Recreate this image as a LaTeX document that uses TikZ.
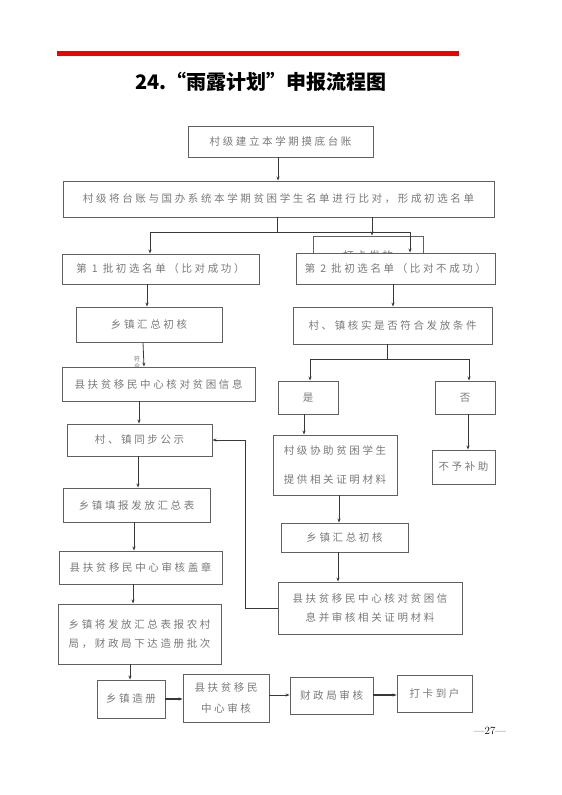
\documentclass[tikz,border=0pt]{standalone}
\usepackage{fontspec}
\newfontfamily\cjk[LetterSpace=25]{Noto Sans CJK SC}
\newfontfamily\cjkt{Noto Sans CJK SC}
\usetikzlibrary{arrows.meta}
\definecolor{boxc}{HTML}{606060}
\definecolor{txtc}{HTML}{7A7A7A}
\definecolor{linec}{HTML}{383838}
\definecolor{redline}{HTML}{F00000}
\newcommand\mkbox[7][]{%
  \pgfmathsetmacro\bw{#5-#3}\pgfmathsetmacro\bh{#6-#4}%
  \node[box,minimum width=\bw pt,minimum height=\bh pt,#1] (#2) at ({(#3+#5)/2},{(#4+#6)/2}) {#7};}
\begin{document}
\begin{tikzpicture}[x=1pt,y=-1pt,
  box/.style={draw=boxc, line width=0.9pt, fill=white, inner sep=0pt, align=center,
    font=\fontsize{10.5}{19}\selectfont\cjk, text=txtc},
  arr/.style={draw=linec, line width=0.8pt, -{Stealth[length=4pt,width=3pt]}},
  ln/.style={draw=linec, line width=0.8pt}]
\useasboundingbox (0,0) rectangle (562,795);
\fill[white] (0,0) rectangle (562,795);
% header
\draw[redline, line width=5pt] (57,53) -- (459,53);
\node (title) at (261,82) {\cjkt\bfseries\fontsize{20}{23}\selectfont 24.“雨露计划”申报流程图};
% top
\mkbox{b1}{188}{126}{373}{157}{村级建立本学期摸底台账}
\mkbox{b2}{63}{181}{494}{217}{村级将台账与国办系统本学期贫困学生名单进行比对，形成初选名单}
\mkbox{hid}{313}{236}{423}{276}{打卡发放}
\mkbox{p1}{62}{254}{259}{284}{第 1 批初选名单（比对成功）}
\mkbox{p2}{296}{253}{495}{284}{第 2 批初选名单（比对不成功）}
% left column
\mkbox{l1}{76}{307}{222}{342}{乡镇汇总初核}
\node[font=\fontsize{6}{7}\selectfont\cjkt, text=txtc, align=center, inner sep=0pt] (fh) at (137,362.5) {符\\合};
\mkbox{l2}{62}{367}{255}{401}{县扶贫移民中心核对贫困信息}
\mkbox{l3}{67}{424}{212}{456}{村、镇同步公示}
\mkbox{l4}{63}{488}{210}{522}{乡镇填报发放汇总表}
\mkbox{l5}{59}{551}{222}{584}{县扶贫移民中心审核盖章}
\mkbox{l6}{58}{604}{221}{664}{乡镇将发放汇总表报农村\\局，财政局下达造册批次}
\mkbox{l7}{97}{680}{165}{718}{乡镇造册}
\mkbox{c1}{183}{674}{269}{722}{县扶贫移民\\[2pt]中心审核}
\mkbox{c2}{290}{677}{373}{714}{财政局审核}
\mkbox{c3}{397}{675}{472}{712}{打卡到户}
% right column
\mkbox{r1}{293}{307}{492}{344}{村、镇核实是否符合发放条件}
\mkbox{yes}{278}{381}{338}{414}{是}
\mkbox{no}{435}{381}{495}{414}{否}
\mkbox{r2}{273}{435}{397}{495}{村级协助贫困学生\\[10pt]提供相关证明材料}
\mkbox{nz}{432}{450}{495}{484}{不予补助}
\mkbox{r3}{281}{523}{408}{552}{乡镇汇总初核}
\mkbox{r4}{278}{582}{462}{634}{县扶贫移民中心核对贫困信\\息并审核相关证明材料}
\node[font=\fontsize{11}{13}\selectfont, inner sep=0pt] (pg) at (490,731) {—27—};
% connectors
\draw[arr] (b1.south -| 278,0) -- (b2.north -| 278,0);
\coordinate (j1) at (277,232);
\draw[ln] (b2.south -| j1) -- (j1);
\draw[ln] (150,232) -- (410,232);
\draw[arr] (150,232) -- (p1.north -| 150,0);
\draw[arr] (410,232) -- (p2.north -| 410,0);
\draw[arr] (b2.south -| 372,0) -- (hid.north -| 372,0);
\draw[arr] (p1.south -| 147,0) -- (l1.north -| 147,0);
\draw[arr] (l1.south -| 143,0) -- (l2.north -| 144,0);
\draw[arr] (l2.south -| 139,0) -- (l3.north -| 139,0);
\draw[arr] (l3.south -| 138,0) -- (l4.north -| 138,0);
\draw[arr] (l4.south -| 134,0) -- (l5.north -| 134,0);
\draw[arr] (l5.south -| 133,0) -- (l6.north -| 133,0);
\draw[arr] (l6.south -| 130,0) -- (l7.north -| 130,0);
\draw[arr, line width=1.3pt] (l7.east |- 0,699) -- (c1.west |- 0,699);
\draw[arr] (c1.east |- 0,695) -- (c2.west |- 0,695);
\draw[arr, line width=1.1pt] (c2.east |- 0,695) -- (c3.west |- 0,695);
\draw[arr] (p2.south -| 393,0) -- (r1.north -| 393,0);
\coordinate (j2) at (387,359);
\draw[ln] (r1.south -| j2) -- (j2);
\draw[ln] (310,359) -- (469,359);
\draw[arr] (310,359) -- (yes.north -| 310,0);
\draw[arr] (469,359) -- (no.north -| 469,0);
\draw[arr] (yes.south -| 304,0) -- (r2.north -| 304,0);
\draw[arr] (no.south -| 468,0) -- (nz.north -| 468,0);
\draw[arr] (r2.south -| 339,0) -- (r3.north -| 339,0);
\draw[arr] (r3.south -| 338,0) -- (r4.north -| 338,0);
\draw[arr] (r4.west) -- (245,608) -- (245,440) -- (l3.east);
\end{tikzpicture}
\end{document}
